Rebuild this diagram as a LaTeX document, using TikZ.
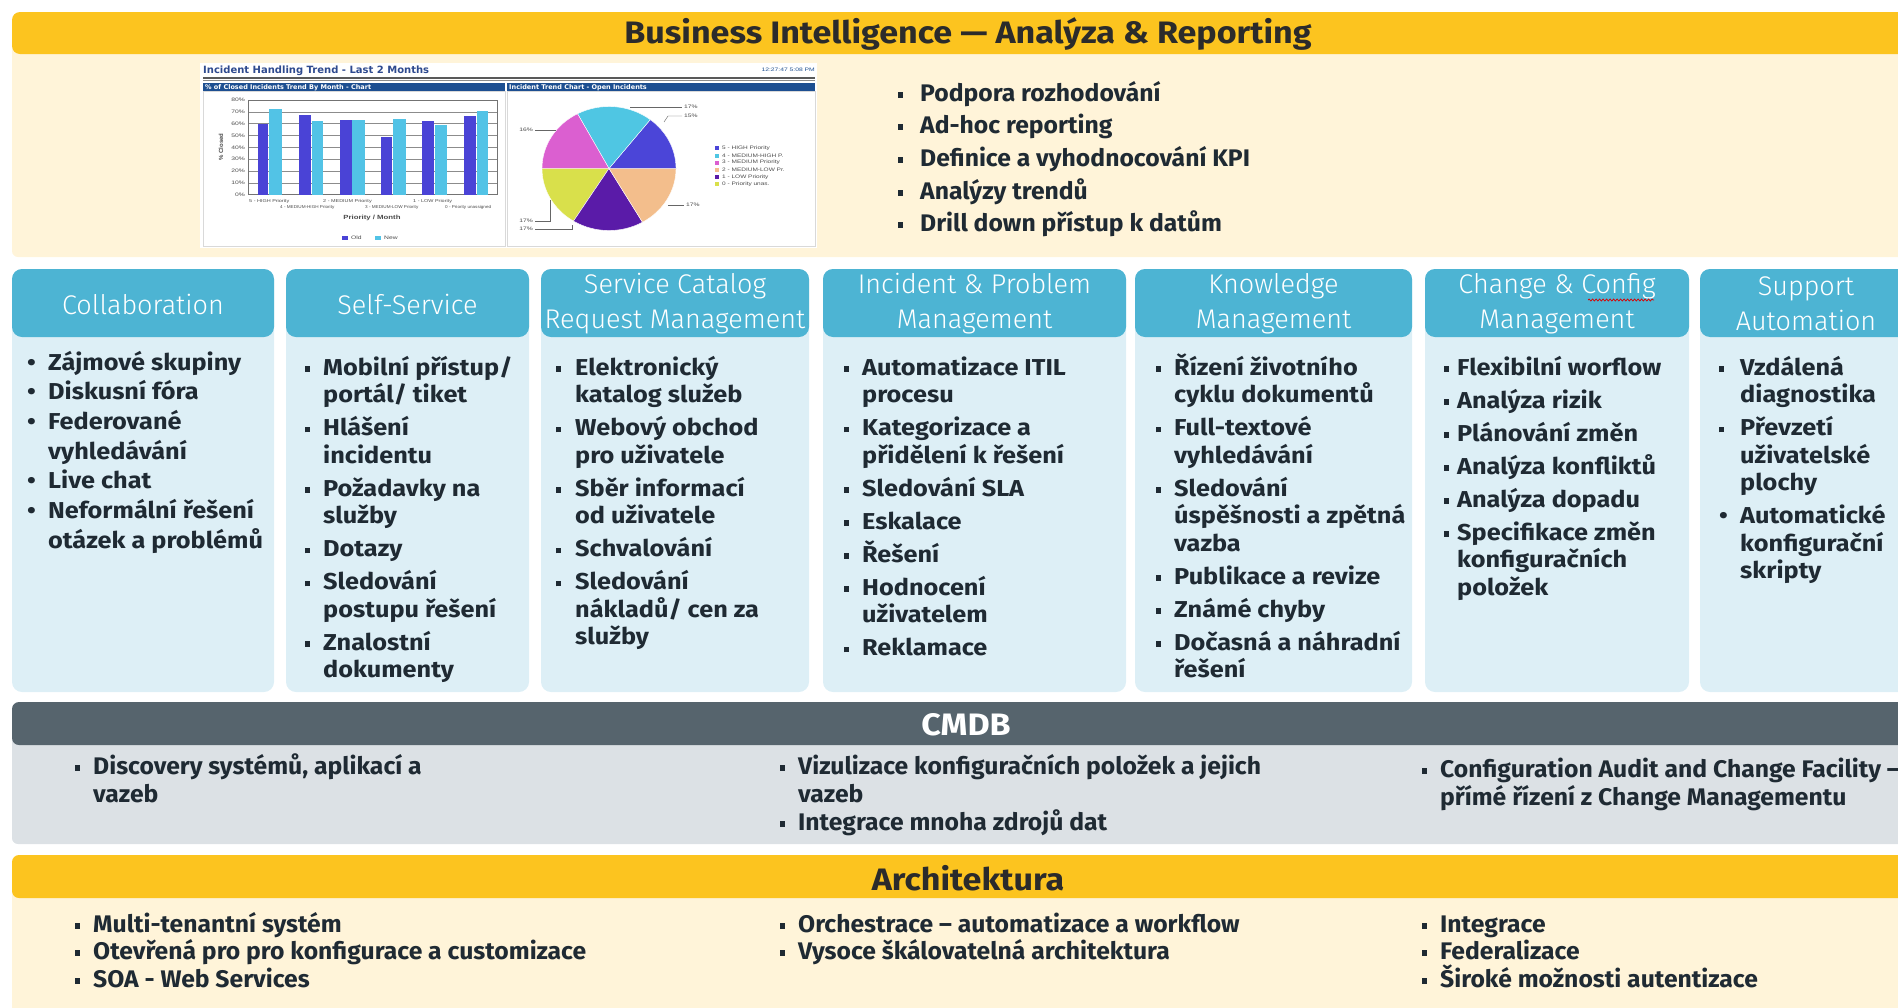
\documentclass[tikz,border=0pt]{standalone}
\usepackage{fontspec}
\usepackage{graphicx}
\setmainfont{Fira Sans}
\newfontfamily\bodyfont[FakeStretch=1.1]{Fira Sans}
\newfontfamily\condfont[FakeStretch=1.03]{Fira Sans}
\newfontfamily\titlefont[FakeStretch=1.1]{Fira Sans}
\newfontfamily\headfont{Fira Sans Light}
\newfontfamily\chartfont{Liberation Sans}
\newfontfamily\dejafont{DejaVu Sans}
\usetikzlibrary{decorations.pathmorphing}

\definecolor{bigold}{HTML}{FCC41F}
\definecolor{bicream}{HTML}{FFF4D9}
\definecolor{hdteal}{HTML}{4DB4D3}
\definecolor{bdblue}{HTML}{DDEFF6}
\definecolor{cmslate}{HTML}{56646D}
\definecolor{cmgray}{HTML}{DCE1E5}
\definecolor{ink}{HTML}{1F2A33}
\definecolor{titink}{HTML}{2B2B2B}
\definecolor{chnavy}{HTML}{1D4F91}
\definecolor{chtitle}{HTML}{2E4A8F}
\definecolor{barA}{HTML}{4A43D6}
\definecolor{barB}{HTML}{52C3E6}
\definecolor{pieBlue}{HTML}{4B45D8}
\definecolor{pieCyan}{HTML}{4FC6E3}
\definecolor{pieMag}{HTML}{DB5FD0}
\definecolor{pieYel}{HTML}{D9E04B}
\definecolor{piePur}{HTML}{5A1BA8}
\definecolor{piePea}{HTML}{F3BE8C}

\newlength\bw
\newlength\itgap
\newcommand\sqb{\raisebox{0.14em}{\rule{0.21em}{0.25em}}}
\newcommand\rdb{\textbullet}
\newcommand\fitem[2][\sqb]{\par\hangindent=\bw\hangafter=1\noindent\makebox[\bw][l]{#1}#2}
\newcommand\nitem[2][\sqb]{\par\vskip\itgap\fitem[#1]{#2}}
\newcommand\lst[4]{\vtop{\hsize=#1\bw=#2\itgap=#3\parindent=0pt\parskip=0pt\lineskiplimit=-100pt\lineskip=0pt\rightskip=0pt plus 1fil #4\par}}
\newcommand\cs[2][1.35]{\scalebox{#1}[1]{#2}}

\tikzset{
  colhead/.style={fill=hdteal, rounded corners=10pt},
  colbody/.style={fill=bdblue, rounded corners=10pt},
  hdtext/.style={font=\headfont\fontsize{27}{35}\selectfont, text=white, align=center, inner sep=0},
  bodytext/.style={anchor=base west, inner sep=0, text=ink, font=\bodyfont\bfseries\fontsize{23}{27.5}\selectfont},
  condtext/.style={anchor=base west, inner sep=0, text=ink, font=\condfont\bfseries\fontsize{24}{28}\selectfont},
  bigtitle/.style={font=\titlefont\bfseries\fontsize{31}{34}\selectfont, inner sep=0},
  chtxt/.style={font=\chartfont\fontsize{5}{6}\selectfont, inner sep=0, text=black!70},
}

\begin{document}
\begin{tikzpicture}[x=1pt,y=-1pt]
\useasboundingbox (0,0) rectangle (1898,1007);
\begin{scope}
\clip (0,0) rectangle (1898,1007);

% ---------------- Business Intelligence ----------------
\fill[bicream, rounded corners=6pt] (12,45) rectangle (1930,257);
\fill[bigold, rounded corners=8pt] (12,12) rectangle (1930,54);
\node[bigtitle, text=titink] (bititle) at (968,34) {Business Intelligence — Analýza \& Reporting};

% chart inset
\fill[white] (200,63) rectangle (817,248);
\node[font=\dejafont\bfseries\fontsize{10}{11}\selectfont, text=chtitle, anchor=west, inner sep=0] (chtitle) at (203,71) {Incident Handling Trend - Last 2 Months};
\node[chtxt, anchor=east, text=chnavy] (chtime) at (815,70) {\cs{12:27:47 5:08 PM}};
\draw[black!65, line width=1.2] (203,78) -- (815,78);
\draw[black!45, line width=0.5] (203,80.5) -- (815,80.5);
\fill[chnavy] (203,83) rectangle (505,91.5);
\fill[chnavy] (507,83) rectangle (815,91.5);
\node[font=\dejafont\bfseries\fontsize{6.5}{7}\selectfont, text=white, anchor=west, inner sep=0] (chlh) at (205,87.3) {\% of Closed Incidents Trend By Month - Chart};
\node[font=\dejafont\bfseries\fontsize{6.5}{7}\selectfont, text=white, anchor=west, inner sep=0] (chrh) at (509,87.3) {Incident Trend Chart - Open Incidents};
\draw[black!15, line width=0.5] (203,91.5) rectangle (505,246);
\draw[black!15, line width=0.5] (507,91.5) rectangle (815,246);

% bar chart
\foreach \k in {0,...,8} {
  \draw[black!45, line width=0.5] (248,{194.7-\k*11.84}) -- (497,{194.7-\k*11.84});
}
\draw[black!55, line width=0.6] (248,100) rectangle (497,194.7);
\foreach \v [count=\k from 0] in {0,10,20,30,40,50,60,70,80} {
  \node[chtxt, anchor=east] (yl\k) at (245,{194.7-\k*11.84}) {\cs{\v\%}};
}
\node[chtxt, rotate=90, font=\chartfont\bfseries\fontsize{6}{7}\selectfont] (ylab) at (221,147) {\% Closed};
\foreach \a/\b/\t/\c in {258.3/268.3/124/barA, 269/282.3/108.7/barB,
  299/311/114.7/barA, 311.7/323.3/120.7/barB,
  340/351.7/119.7/barA, 352.3/365/119.7/barB,
  381/392.3/136.7/barA, 393/405.7/119/barB,
  422.3/434.3/121.3/barA, 435/447.3/124.7/barB,
  464.3/475.7/116.3/barA, 476.7/488.3/110.7/barB} {
  \fill[\c] (\a,194.7) rectangle (\b,\t);
}
\node[chtxt, anchor=west, font=\chartfont\fontsize{4.2}{5}\selectfont] (xl1) at (249,201.5) {\cs[1.3]{5 - HIGH Priority}};
\node[chtxt, anchor=west, font=\chartfont\fontsize{4.2}{5}\selectfont] (xl2) at (323,201.5) {\cs[1.3]{2 - MEDIUM Priority}};
\node[chtxt, anchor=west, font=\chartfont\fontsize{4.2}{5}\selectfont] (xl3) at (413,201.5) {\cs[1.3]{1 - LOW Priority}};
\node[chtxt, anchor=west, font=\chartfont\fontsize{4.2}{5}\selectfont] (xl4) at (280,207.5) {\cs[1.1]{4 - MEDIUM-HIGH Priority}};
\node[chtxt, anchor=west, font=\chartfont\fontsize{4.2}{5}\selectfont] (xl5) at (365,207.5) {\cs[1.1]{3 - MEDIUM-LOW Priority}};
\node[chtxt, anchor=west, font=\chartfont\fontsize{4.2}{5}\selectfont] (xl6) at (445,207.5) {\cs[1.1]{0 - Priority unassigned}};
\node[chtxt, font=\chartfont\bfseries\fontsize{6}{7}\selectfont] (xlab) at (372,218) {\cs[1.3]{Priority / Month}};
\fill[barA] (342,236) rectangle (348,240);
\node[chtxt, anchor=west] (lgold) at (351,238) {\cs{Old}};
\fill[barB] (375,236) rectangle (381,240);
\node[chtxt, anchor=west] (lgnew) at (384,238) {\cs{New}};

% pie chart
\coordinate (pc) at (609,168.5);
\foreach \s/\e/\c in {0/52/pieBlue, 52/118/pieCyan, 118/180/pieMag, 180/238/pieYel, 238/300/piePur, 300/360/piePea} {
  \fill[\c, draw=white, line width=0.4] (pc) -- ++({-\s}:{67} and {62}) arc[start angle={-\s}, end angle={-\e}, x radius=67, y radius=62] -- cycle;
}
\draw[black!60, line width=0.4] (630,107) -- (682,107);
\node[chtxt, anchor=west] (p1) at (684,107) {\cs{17\%}};
\draw[black!60, line width=0.4] (664,122) -- (668,116) -- (682,116);
\node[chtxt, anchor=west] (p2) at (684,116) {\cs{15\%}};
\draw[black!60, line width=0.4] (535,130) -- (556,130);
\node[chtxt, anchor=east] (p3) at (533,130) {\cs{16\%}};
\draw[black!60, line width=0.4] (668,205) -- (684,205);
\node[chtxt, anchor=west] (p4) at (686,205) {\cs{17\%}};
\draw[black!60, line width=0.4] (550,200) -- (550,221) -- (535,221);
\node[chtxt, anchor=east] (p5) at (533,221) {\cs{17\%}};
\draw[black!60, line width=0.4] (572,225) -- (572,229) -- (535,229);
\node[chtxt, anchor=east] (p6) at (533,229) {\cs{17\%}};
\foreach \c/\t [count=\k from 0] in {pieBlue/{5 - HIGH Priority}, pieCyan/{4 - MEDIUM-HIGH P.}, pieMag/{3 - MEDIUM Priority}, piePea/{2 - MEDIUM-LOW Pr.}, piePur/{1 - LOW Priority}, pieYel/{0 - Priority unas.}} {
  \fill[\c] (715,{146.3+\k*7.2}) rectangle (719,{150.3+\k*7.2});
  \node[chtxt, anchor=west] (lg\k) at (722,{148.3+\k*7.2}) {\cs[1.3]{\t}};
}

% BI bullets
\node[condtext, font=\condfont\bfseries\fontsize{24}{32.7}\selectfont] (bilist) at (898,101)
  {\lst{600pt}{22pt}{0pt}{\fitem{Podpora rozhodování}\nitem{Ad-hoc reporting}\nitem{Definice a vyhodnocování KPI}\nitem{Analýzy trendů}\nitem{Drill down přístup k datům}}};

% ---------------- Columns ----------------
\foreach \l/\r in {12/274, 286/529, 541/809, 823/1126, 1135/1412, 1425/1689, 1700/1912} {
  \fill[colbody] (\l,269) rectangle (\r,692);
  \fill[colhead] (\l,269) rectangle (\r,337);
}
\node[hdtext] (h1) at (143,304) {Collaboration};
\node[hdtext] (h2) at (407.5,304) {Self-Service};
\node[hdtext] (h3) at (675,304) {Service Catalog\\Request Management};
\node[hdtext] (h4) at (974.5,304) {Incident \& Problem\\Management};
\node[hdtext] (h5) at (1273.5,304) {Knowledge\\Management};
\node[hdtext] (h6) at (1557,304) {Change \& Config\\Management};
\node[hdtext] (h7) at (1806,304) {Support\\Automation};
\draw[red!85!black, line width=0.7, decorate, decoration={snake, amplitude=1pt, segment length=3.5pt}] (1588,300) -- (1654,300);

\node[bodytext, font=\bodyfont\bfseries\fontsize{23}{29.7}\selectfont] (b1) at (27,370)
  {\lst{255pt}{21pt}{0pt}{\fitem[\rdb]{Zájmové skupiny}\nitem[\rdb]{Diskusní fóra}\nitem[\rdb]{Federované\newline vyhledávání}\nitem[\rdb]{Live chat}\nitem[\rdb]{Neformální řešení\newline otázek a problémů}}};
\node[bodytext] (b2) at (305,375)
  {\lst{240pt}{18pt}{5.5pt}{\fitem{Mobilní přístup/\newline portál/ tiket}\nitem{Hlášení\newline incidentu}\nitem{Požadavky na\newline služby}\nitem{Dotazy}\nitem{Sledování\newline postupu řešení}\nitem{Znalostní\newline dokumenty}}};
\node[bodytext] (b3) at (556,375)
  {\lst{260pt}{19pt}{5.5pt}{\fitem{Elektronický\newline katalog služeb}\nitem{Webový obchod\newline pro uživatele}\nitem{Sběr informací\newline od uživatele}\nitem{Schvalování}\nitem{Sledování\newline nákladů/ cen za\newline služby}}};
\node[bodytext] (b4) at (844,375)
  {\lst{290pt}{18pt}{5.5pt}{\fitem{Automatizace ITIL\newline procesu}\nitem{Kategorizace a\newline přidělení k řešení}\nitem{Sledování SLA}\nitem{Eskalace}\nitem{Řešení}\nitem{Hodnocení\newline uživatelem}\nitem{Reklamace}}};
\node[bodytext] (b5) at (1156,375)
  {\lst{275pt}{18pt}{5.5pt}{\fitem{Řízení životního\newline cyklu dokumentů}\nitem{Full-textové\newline vyhledávání}\nitem{Sledování\newline úspěšnosti a zpětná\newline vazba}\nitem{Publikace a revize}\nitem{Známé chyby}\nitem{Dočasná a náhradní\newline řešení}}};
\node[bodytext] (b6) at (1444,375)
  {\lst{260pt}{13pt}{5.5pt}{\fitem{Flexibilní worflow}\nitem{Analýza rizik}\nitem{Plánování změn}\nitem{Analýza konfliktů}\nitem{Analýza dopadu}\nitem{Specifikace změn\newline konfiguračních\newline položek}}};
\node[bodytext] (b7) at (1719,375)
  {\lst{210pt}{21pt}{5.5pt}{\fitem{Vzdálená\newline diagnostika}\nitem{Převzetí\newline uživatelské\newline plochy}\nitem[\rdb]{Automatické\newline konfigurační\newline skripty}}};

% ---------------- CMDB ----------------
\fill[cmgray, rounded corners=6pt] (12,735) rectangle (1930,844);
\fill[cmslate, rounded corners=7pt] (12,702) rectangle (1930,745);
\node[bigtitle, text=white] (cmtitle) at (966,725) {CMDB};
\node[condtext] (cm1) at (75,774)
  {\lst{650pt}{18pt}{0pt}{\fitem{Discovery systémů, aplikací a\newline vazeb}}};
\node[condtext] (cm2) at (780,774)
  {\lst{650pt}{18pt}{0pt}{\fitem{Vizulizace konfiguračních položek a jejich\newline vazeb}\nitem{Integrace mnoha zdrojů dat}}};
\node[condtext] (cm3) at (1422,777)
  {\lst{650pt}{18pt}{0pt}{\fitem{Configuration Audit and Change Facility –\newline přímé řízení z Change Managementu}}};

% ---------------- Architektura ----------------
\fill[bicream, rounded corners=6pt] (12,890) rectangle (1930,1030);
\fill[bigold, rounded corners=7pt] (12,855) rectangle (1930,898);
\node[bigtitle, text=titink] (artitle) at (968,878) {Architektura};
\node[condtext, font=\condfont\bfseries\fontsize{24}{27.5}\selectfont] (ar1) at (75,932)
  {\lst{650pt}{18pt}{0pt}{\fitem{Multi-tenantní systém}\nitem{Otevřená pro pro konfigurace a customizace}\nitem{SOA - Web Services}}};
\node[condtext, font=\condfont\bfseries\fontsize{24}{27.5}\selectfont] (ar2) at (780,932)
  {\lst{650pt}{18pt}{0pt}{\fitem{Orchestrace – automatizace a workflow}\nitem{Vysoce škálovatelná architektura}}};
\node[condtext, font=\condfont\bfseries\fontsize{24}{27.5}\selectfont] (ar3) at (1422,932)
  {\lst{650pt}{18pt}{0pt}{\fitem{Integrace}\nitem{Federalizace}\nitem{Široké možnosti autentizace}}};
\end{scope}
\end{tikzpicture}
\end{document}
